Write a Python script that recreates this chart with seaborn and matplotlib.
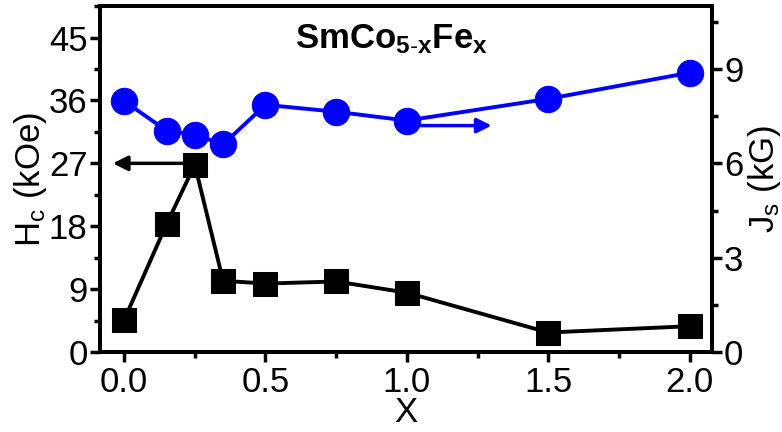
import numpy as np
import pandas as pd
import matplotlib
matplotlib.use("Agg")
import matplotlib.pyplot as plt
import seaborn as sns
from matplotlib.ticker import MultipleLocator

# data
x_vals = [0.0, 0.15, 0.25, 0.35, 0.5, 0.75, 1.0, 1.5, 2.0]
hc_vals = [4.6, 18.3, 26.8, 10.2, 9.8, 10.1, 8.5, 2.8, 3.7]   # kOe, left axis
js_vals = [7.98, 7.04, 6.91, 6.60, 7.86, 7.64, 7.36, 8.05, 8.88]  # kG, right axis

# arrows: (tail x, head x, y)
hc_arrow = [0.21, -0.04, 27.0]
js_arrow = [1.05, 1.30, 7.2]

df = pd.DataFrame({"x": x_vals, "Hc": hc_vals, "Js": js_vals})

sns.set_style("ticks")
plt.rcParams["font.family"] = ["Liberation Sans", "DejaVu Sans"]
plt.rcParams["mathtext.fontset"] = "custom"
plt.rcParams["mathtext.rm"] = "Liberation Sans"
plt.rcParams["mathtext.bf"] = "Liberation Sans:bold"
plt.rcParams["mathtext.default"] = "regular"
for k in ["text.color", "axes.edgecolor", "axes.labelcolor", "xtick.color", "ytick.color"]:
    plt.rcParams[k] = "black"

fig = plt.figure(figsize=(7.82, 4.32), dpi=100)
ax = fig.add_axes([0.128, 0.185, 0.782, 0.801])
ax2 = ax.twinx()

# Hc squares
sns.lineplot(data=df, x="x", y="Hc", ax=ax, color="black", lw=2.8,
             marker="s", markersize=17, markeredgecolor="black", zorder=3)
# Js circles
sns.lineplot(data=df, x="x", y="Js", ax=ax2, color="#0000ff", lw=2.8,
             marker="o", markersize=19, markeredgecolor="#0000ff", zorder=3)

ax.set_xlim(-0.085, 2.078)
ax.set_ylim(0, 49.5)
ax2.set_ylim(0, 11)

ax.xaxis.set_major_locator(MultipleLocator(0.5))
ax.xaxis.set_minor_locator(MultipleLocator(0.25))
ax.yaxis.set_major_locator(MultipleLocator(9))
ax.yaxis.set_minor_locator(MultipleLocator(4.5))
ax2.yaxis.set_major_locator(MultipleLocator(3))
ax2.yaxis.set_minor_locator(MultipleLocator(1.5))

ax.set_xticks([0, 0.5, 1.0, 1.5, 2.0])
ax.set_xticklabels(["0.0", "0.5", "1.0", "1.5", "2.0"])

for a in (ax, ax2):
    for s in a.spines.values():
        s.set_linewidth(2.8)
        s.set_visible(True)
    a.tick_params(which="major", direction="out", length=7, width=2.5, labelsize=25, pad=2)
    a.tick_params(which="minor", direction="out", length=4, width=2.5)
ax.tick_params(axis="x", pad=3)

ax.set_xlabel("X", fontsize=25, labelpad=-2)
ax.set_ylabel("H$_c$ (kOe)", fontsize=25, labelpad=0)
ax2.set_ylabel("J$_s$ (kG)", fontsize=25, labelpad=2)

# arrows
ax.annotate("", xy=(hc_arrow[1], hc_arrow[2]), xytext=(hc_arrow[0], hc_arrow[2]),
            arrowprops=dict(arrowstyle="-|>", color="black", lw=2.5,
                            mutation_scale=22, shrinkA=0, shrinkB=0), zorder=2)
ax2.annotate("", xy=(js_arrow[1], js_arrow[2]), xytext=(js_arrow[0], js_arrow[2]),
             arrowprops=dict(arrowstyle="-|>", color="#0000ff", lw=2.5,
                             mutation_scale=22, shrinkA=0, shrinkB=0), zorder=2)

ax.text(0.477, 0.905, r"SmCo$_{\mathbf{5\text{-}x}}$Fe$_{\mathbf{x}}$", transform=ax.transAxes,
        ha="center", va="center", fontsize=25, fontweight="bold")

fig.savefig("out.png", dpi=100)
